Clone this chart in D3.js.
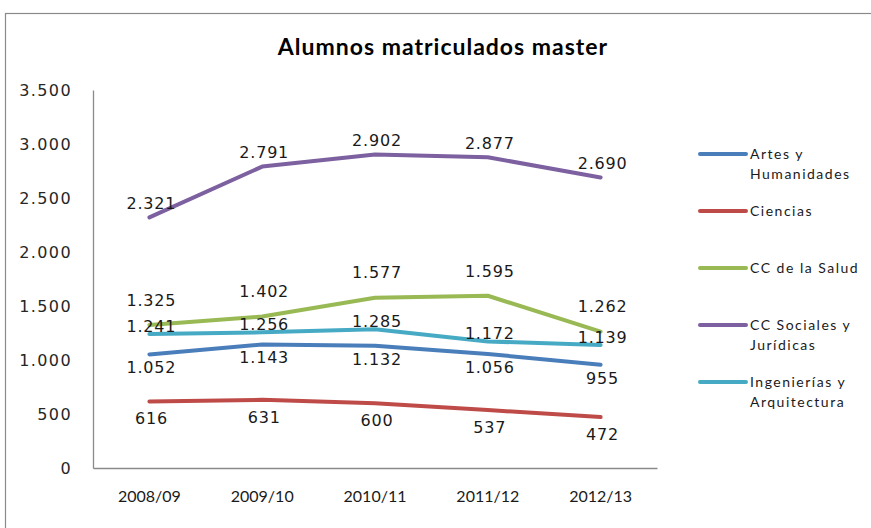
<!DOCTYPE html>
<html>
<head>
<meta charset="utf-8">
<script src="https://cdn.jsdelivr.net/npm/d3@7"></script>
<style>
  body { margin: 0; background: #fff; }
  svg { display: block; }
</style>
</head>
<body>
<script>
// chart data
var cursos = ["2008/09", "2009/10", "2010/11", "2011/12", "2012/13"];
var artes = [1052, 1143, 1132, 1056, 955];
var ciencias = [616, 631, 600, 537, 472];
var salud = [1325, 1402, 1577, 1595, 1262];
var sociales = [2321, 2791, 2902, 2877, 2690];
var ingenierias = [1241, 1256, 1285, 1172, 1139];
var yTicks = [0, 500, 1000, 1500, 2000, 2500, 3000, 3500];

var series = [
  {name: "Artes y Humanidades", values: artes, color: "#4a7ebb", dy: 13},
  {name: "Ciencias", values: ciencias, color: "#be4b48", dy: 17},
  {name: "CC de la Salud", values: salud, color: "#98b954", dy: -25},
  {name: "CC Sociales y Jurídicas", values: sociales, color: "#7d60a0", dy: -14},
  {name: "Ingenierías y Arquitectura", values: ingenierias, color: "#46aac5", dy: -8}
];

var W = 871, H = 528;
var plot = {left: 93, right: 657, top: 90, bottom: 468};

var es = d3.formatLocale({decimal: ",", thousands: ".", grouping: [3], currency: ["", "€"]});
var fmt = es.format(",");

var svg = d3.select("body").append("svg")
    .attr("width", W)
    .attr("height", H);

// outer chart frame
svg.append("rect")
    .attr("x", 5.5).attr("y", 13.5)
    .attr("width", 900).attr("height", 600)
    .attr("fill", "#fff")
    .attr("stroke", "#8a8a8a")
    .attr("stroke-width", 1.2);

// title
svg.append("text")
    .attr("x", 443).attr("y", 55)
    .attr("text-anchor", "middle")
    .style("font-family", "Lato, sans-serif")
    .style("font-weight", "bold")
    .style("font-size", "23px")
    .style("letter-spacing", "1px")
    .style("fill", "#000")
    .text("Alumnos matriculados master");

var x = d3.scaleBand().domain(cursos).range([plot.left, plot.right]);
var y = d3.scaleLinear().domain([0, 3500]).range([plot.bottom, plot.top]);

// y axis
var yAxis = svg.append("g")
    .attr("transform", "translate(" + plot.left + ",0)")
    .call(d3.axisLeft(y).tickValues(yTicks).tickSize(0).tickPadding(21).tickFormat(fmt));
yAxis.select(".domain").attr("stroke", "#8a8a8a").attr("stroke-width", 1.3);
yAxis.selectAll("text")
    .style("font-family", "DejaVu Sans, sans-serif")
    .style("font-size", "16px")
    .style("letter-spacing", "1.4px")
    .style("fill", "#262626");

// x axis
var xAxis = svg.append("g")
    .attr("transform", "translate(0," + plot.bottom + ")")
    .call(d3.axisBottom(x).tickSize(0).tickPadding(23));
xAxis.select(".domain").attr("stroke", "#8a8a8a").attr("stroke-width", 1.3);
xAxis.selectAll("text")
    .style("font-family", "Lato, sans-serif")
    .style("font-size", "16px")
    .style("fill", "#1a1a1a");

var line = d3.line()
    .x(function(d, i) { return x(cursos[i]) + x.bandwidth() / 2; })
    .y(function(d) { return y(d); });

series.forEach(function(s) {
  svg.append("path")
      .datum(s.values)
      .attr("d", line)
      .attr("fill", "none")
      .attr("stroke", s.color)
      .attr("stroke-width", 4)
      .attr("stroke-linecap", "round")
      .attr("stroke-linejoin", "round");
});

// data labels
series.forEach(function(s) {
  svg.selectAll(null)
      .data(s.values)
      .enter().append("text")
      .attr("x", function(d, i) { return x(cursos[i]) + x.bandwidth() / 2 + 2; })
      .attr("y", function(d) { return y(d) + s.dy; })
      .attr("dy", "0.36em")
      .attr("text-anchor", "middle")
      .style("font-family", "DejaVu Sans, sans-serif")
      .style("font-size", "16px")
      .style("letter-spacing", "0.8px")
      .style("fill", "#1a1a1a")
      .text(fmt);
});

// legend
var legend = svg.selectAll(".legend")
    .data(series)
    .enter().append("g")
    .attr("class", "legend")
    .attr("transform", function(d, i) { return "translate(700," + (154 + i * 57) + ")"; });

legend.append("line")
    .attr("x1", 0).attr("x2", 46)
    .attr("stroke", function(d) { return d.color; })
    .attr("stroke-width", 4)
    .attr("stroke-linecap", "round");

legend.append("text")
    .attr("x", 50)
    .style("font-family", "Lato, sans-serif")
    .style("font-size", "14px")
    .style("letter-spacing", "1.5px")
    .style("fill", "#1a1a1a")
    .selectAll("tspan")
    .data(function(d) { return d.name.split(/(?<= y) /); })
    .enter().append("tspan")
    .attr("x", 50)
    .attr("dy", function(d, i) { return i === 0 ? "0.36em" : "20px"; })
    .text(function(d) { return d; });
</script>
</body>
</html>
